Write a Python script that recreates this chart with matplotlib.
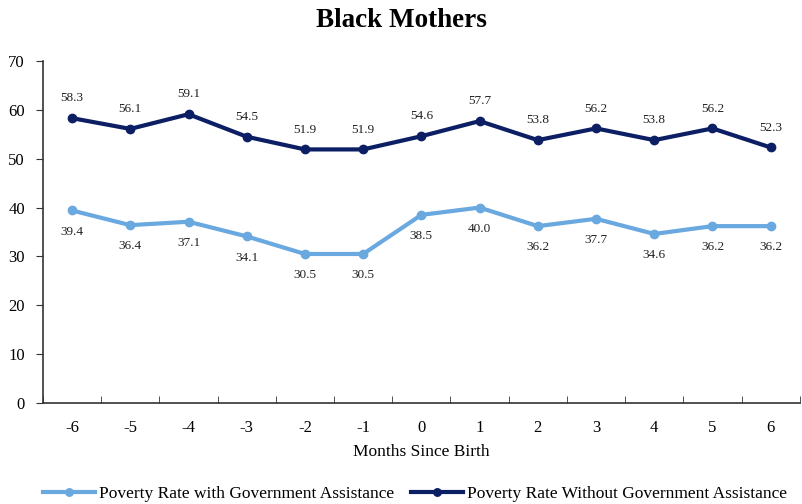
import matplotlib.pyplot as plt
import numpy as np

plt.rcParams['font.family'] = ['Liberation Serif', 'DejaVu Serif']

months = [-6, -5, -4, -3, -2, -1, 0, 1, 2, 3, 4, 5, 6]
with_assist = [39.4, 36.4, 37.1, 34.1, 30.5, 30.5, 38.5, 40.0, 36.2, 37.7, 34.6, 36.2, 36.2]
without_assist = [58.3, 56.1, 59.1, 54.5, 51.9, 51.9, 54.6, 57.7, 53.8, 56.2, 53.8, 56.2, 52.3]

light = '#6aa8e0'
dark = '#0c1f64'

fig = plt.figure(figsize=(8.03, 5.04), dpi=100)
ax = fig.add_axes([0.0535, 0.2004, 0.9425, 0.6786])

x = np.arange(len(months))
ax.plot(x, with_assist, color=light, lw=3, marker='o', ms=6,
        label='Poverty Rate with Government Assistance')
ax.plot(x, without_assist, color=dark, lw=3, marker='o', ms=6,
        label='Poverty Rate Without Government Assistance')

for xi, v in zip(x, with_assist):
    ax.annotate(f'{v:.1f}', (xi, v), xytext=(0, -11), textcoords='offset points',
                ha='center', va='top', fontsize=9.5, color='#222222')
for xi, v in zip(x, without_assist):
    ax.annotate(f'{v:.1f}', (xi, v), xytext=(0, 10), textcoords='offset points',
                ha='center', va='bottom', fontsize=9.5, color='#222222')

ax.set_xlim(-0.5, len(months) - 0.5)
ax.set_ylim(0, 70)
ax.set_yticks(range(0, 71, 10))
ax.set_xticks(x)
ax.set_xticklabels([str(m) for m in months])
ax.set_xticks(np.arange(-0.5, len(months), 1), minor=True)
ax.tick_params(axis='x', which='major', length=0, labelsize=12, pad=12)
ax.tick_params(axis='x', which='minor', direction='in', length=5, color='#333333')
ax.tick_params(axis='y', direction='out', length=5, labelsize=12, pad=8, color='#333333')

for s in ['top', 'right']:
    ax.spines[s].set_visible(False)
for s in ['left', 'bottom']:
    ax.spines[s].set_color('#333333')
    ax.spines[s].set_linewidth(1.2)

ax.set_xlabel('Months Since Birth', fontsize=12.5, labelpad=6)
fig.suptitle('Black Mothers', fontsize=19.5, fontweight='bold', y=0.985)

fig.legend(loc='lower center', bbox_to_anchor=(0.517, -0.028), ncol=2, frameon=False,
           fontsize=12.5, handlelength=3, handletextpad=0.2, columnspacing=1.0,
           markerscale=0.9)

fig.savefig('out.png', dpi=100)
